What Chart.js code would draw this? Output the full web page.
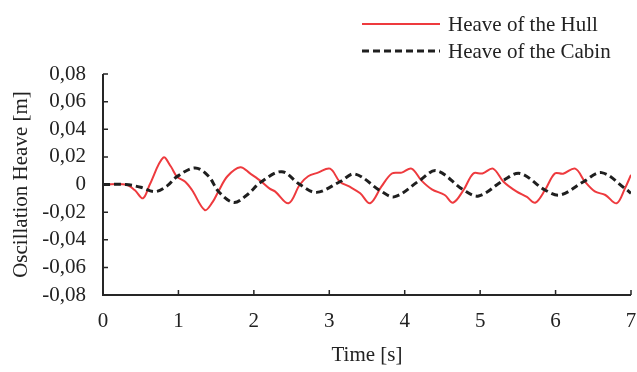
<!DOCTYPE html>
<html lang="en">
<head>
<meta charset="UTF-8">
<title>Heave</title>
<script src="https://cdn.jsdelivr.net/npm/chart.js@4.4.0/dist/chart.umd.min.js"></script>
<style>
    body { margin: 0; background: white; }
    #wrap { width: 637px; height: 372px; }
</style>
</head>
<body>
<div id="wrap"><canvas id="myChart"></canvas></div>
<script>
    const hullTime = [0, 0.3, 0.42, 0.53, 0.62, 0.8, 0.9, 0.98, 1.09, 1.18, 1.35, 1.45, 1.53, 1.65, 1.82, 1.95, 2.08, 2.21, 2.28, 2.46, 2.61, 2.72, 2.85, 3.01, 3.14, 3.27, 3.41, 3.54, 3.69, 3.83, 3.96, 4.09, 4.22, 4.36, 4.53, 4.64, 4.78, 4.91, 5.03, 5.17, 5.31, 5.48, 5.62, 5.73, 5.86, 5.99, 6.1, 6.26, 6.39, 6.52, 6.66, 6.81, 6.92, 7.0]
    const hullHeave = [0, 0, -0.004, -0.010, 0, 0.0195, 0.013, 0.0057, 0.002, -0.004, -0.0185, -0.013, -0.005, 0.006, 0.0125, 0.008, 0.003, -0.003, -0.005, -0.0136, 0, 0.006, 0.0086, 0.0115, 0.002, -0.0016, -0.0064, -0.0136, -0.0016, 0.008, 0.0086, 0.0115, 0.003, -0.0035, -0.0076, -0.0132, -0.004, 0.008, 0.008, 0.0115, 0.002, -0.005, -0.009, -0.0132, -0.004, 0.008, 0.0078, 0.0115, 0.002, -0.005, -0.0076, -0.0136, -0.0028, 0.007]

    const cabinTime = [0, 0.3, 0.5, 0.69, 0.85, 0.98, 1.22, 1.4, 1.53, 1.73, 1.9, 2.1, 2.37, 2.61, 2.83, 3.14, 3.34, 3.69, 3.87, 4.2, 4.42, 4.78, 4.98, 5.31, 5.53, 5.86, 6.06, 6.37, 6.61, 6.92, 7.0]
    const cabinHeave = [0, 0, -0.002, -0.0052, -0.001, 0.0057, 0.012, 0.006, -0.005, -0.013, -0.008, 0.002, 0.0093, 0, -0.0057, 0.002, 0.0076, -0.005, -0.0088, 0.003, 0.010, -0.004, -0.0083, 0.003, 0.008, -0.004, -0.0076, 0.002, 0.0086, -0.0028, -0.0064]

    const seriesNames = ['Heave of the Hull', 'Heave of the Cabin']
    const xTicks = [0, 1, 2, 3, 4, 5, 6, 7]
    const yTicks = [-0.08, -0.06, -0.04, -0.02, 0, 0.02, 0.04, 0.06, 0.08]

    const red = 'rgb(238, 58, 62)'
    const dark = '#1f1f1f'
    const fontFamily = '"Liberation Serif", "Times New Roman", serif'
    const fontSize = 21

    function fmt(v) {
        if (Math.abs(v) < 1e-9) return '0'
        return v.toFixed(2).replace('.', ',')
    }

    // axis lines, inward ticks and the legend
    const framePlugin = {
        id: 'frame',
        afterDraw(chart) {
            const ctx = chart.ctx
            const xs = chart.scales.x
            const ys = chart.scales.y
            const x0 = xs.getPixelForValue(0)
            const y0 = ys.getPixelForValue(-0.08)
            ctx.save()
            ctx.strokeStyle = '#262626'
            ctx.lineWidth = 2
            ctx.beginPath()
            ctx.moveTo(x0, ys.getPixelForValue(0.08))
            ctx.lineTo(x0, y0)
            ctx.lineTo(xs.getPixelForValue(7), y0)
            ctx.stroke()
            ctx.lineWidth = 1.5
            ctx.beginPath()
            yTicks.forEach(v => {
                const y = ys.getPixelForValue(v)
                ctx.moveTo(x0, y)
                ctx.lineTo(x0 + 5, y)
            })
            xTicks.forEach(v => {
                const x = xs.getPixelForValue(v)
                ctx.moveTo(x, y0)
                ctx.lineTo(x, y0 - 5)
            })
            ctx.stroke()

            // legend
            ctx.font = fontSize + 'px ' + fontFamily
            ctx.fillStyle = '#222'
            ctx.textBaseline = 'middle'
            ctx.strokeStyle = red
            ctx.lineWidth = 2
            ctx.beginPath()
            ctx.moveTo(362, 24)
            ctx.lineTo(440, 24)
            ctx.stroke()
            ctx.fillText(seriesNames[0], 448, 25)
            ctx.strokeStyle = dark
            ctx.lineWidth = 3
            ctx.setLineDash([7, 4])
            ctx.beginPath()
            ctx.moveTo(362, 51)
            ctx.lineTo(440, 51)
            ctx.stroke()
            ctx.setLineDash([])
            ctx.fillText(seriesNames[1], 448, 52)
            ctx.restore()
        }
    }

    const chart = new Chart('myChart', {
        type: 'scatter',
        data: {
            datasets: [
                {
                    label: seriesNames[1],
                    data: cabinTime.map((t, i) => ({ x: t, y: cabinHeave[i] })),
                    showLine: true,
                    borderColor: dark,
                    borderWidth: 3,
                    borderDash: [7, 4],
                    pointRadius: 0,
                    tension: 0.35
                },
                {
                    label: seriesNames[0],
                    data: hullTime.map((t, i) => ({ x: t, y: hullHeave[i] })),
                    showLine: true,
                    borderColor: red,
                    borderWidth: 2,
                    pointRadius: 0,
                    tension: 0.35
                }
            ]
        },
        options: {
            responsive: true,
            maintainAspectRatio: false,
            animation: false,
            layout: { padding: { top: 74, right: 6, left: 0, bottom: 0 } },
            plugins: {
                legend: { display: false },
                tooltip: { enabled: false }
            },
            scales: {
                x: {
                    type: 'linear',
                    min: 0,
                    max: 7,
                    afterFit(scale) {
                        scale.height = 77
                        scale.paddingRight = 0
                        scale.paddingLeft = 0
                    },
                    afterBuildTicks(scale) { scale.ticks = xTicks.map(v => ({ value: v })) },
                    grid: { display: false, drawTicks: false },
                    border: { display: false },
                    ticks: {
                        padding: 14,
                        autoSkip: false,
                        color: '#222',
                        font: { family: fontFamily, size: fontSize },
                        maxRotation: 0,
                        callback: v => String(v)
                    },
                    title: {
                        display: true,
                        text: 'Time [s]',
                        color: '#222',
                        font: { family: fontFamily, size: fontSize },
                        padding: { top: 0, bottom: 4 }
                    }
                },
                y: {
                    type: 'linear',
                    min: -0.08,
                    max: 0.08,
                    afterFit(scale) {
                        scale.width = 103
                        scale.paddingTop = 0
                        scale.paddingBottom = 0
                    },
                    afterBuildTicks(scale) { scale.ticks = yTicks.map(v => ({ value: v })) },
                    grid: { display: false, drawTicks: false },
                    border: { display: false },
                    ticks: {
                        padding: 17,
                        autoSkip: false,
                        color: '#222',
                        font: { family: fontFamily, size: fontSize },
                        callback: v => fmt(v)
                    },
                    title: {
                        display: true,
                        text: 'Oscillation Heave [m]',
                        color: '#222',
                        font: { family: fontFamily, size: fontSize },
                        padding: { top: 9, bottom: 0 }
                    }
                }
            }
        },
        plugins: [framePlugin]
    })
</script>
</body>
</html>
